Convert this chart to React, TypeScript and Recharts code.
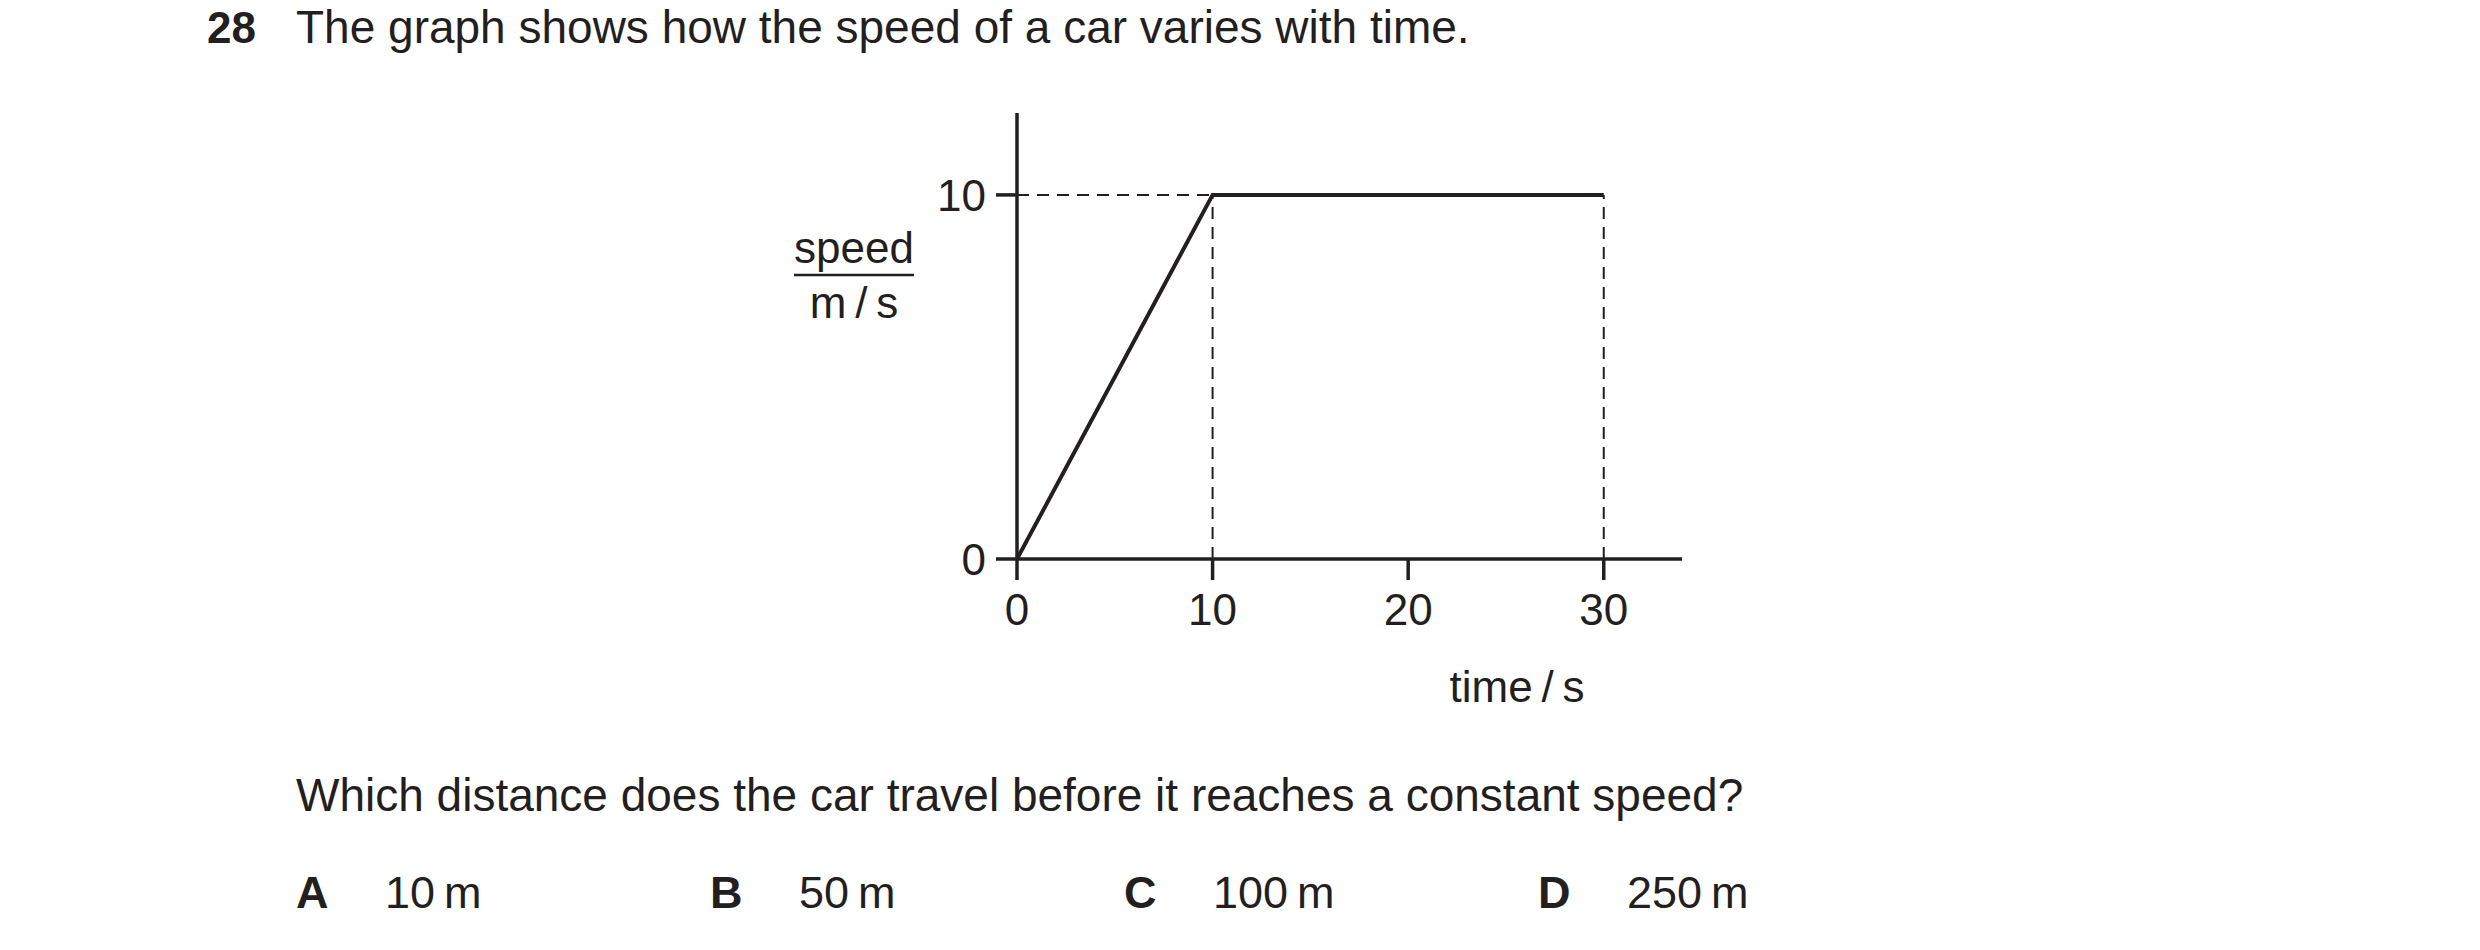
import React from 'react';
import { LineChart, Line, XAxis, YAxis, ReferenceLine, Label } from 'recharts';

const INK = '#231f20';
const FONT = '"Liberation Sans", Arial, Helvetica, sans-serif';

// speed-time graph values
const times = [0, 10, 30];
const speeds = [0, 10, 10];
const xTicks = [0, 10, 20, 30];
const yTicks = [0, 10];

const questionNo = '28';
const stem = 'The graph shows how the speed of a car varies with time.';
const question = 'Which distance does the car travel before it reaches a constant speed?';
const optionLetters = ['A', 'B', 'C', 'D'];
const optionAnswers = ['10\u2009m', '50\u2009m', '100\u2009m', '250\u2009m'];

const data = times.map((t, i) => ({ time: t, speed: speeds[i] }));
const topSpeed = Math.max(...speeds);
const reachTime = times[speeds.indexOf(topSpeed)];
const endTime = times[times.length - 1];

const SpeedLabel = (props: any) => {
  const { x, y, width } = props.viewBox;
  const cx = x + width - 163;
  return (
    <g fontFamily={FONT} fill={INK} fontSize={44}>
      <text x={cx} y={y + 150} textAnchor="middle">speed</text>
      <line x1={cx - 60} x2={cx + 60} y1={y + 162} y2={y + 162} stroke={INK} strokeWidth={2.5} />
      <text x={cx} y={y + 205} textAnchor="middle">{'m\u2009/\u2009s'}</text>
    </g>
  );
};

const TimeLabel = (props: any) => {
  const { x, y } = props.viewBox;
  return (
    <text x={x + 500} y={y + 143} textAnchor="middle" fontFamily={FONT} fill={INK} fontSize={44}>
      {'time\u2009/\u2009s'}
    </text>
  );
};

const axisStyle = { stroke: INK, strokeWidth: 3.5 };
const tickStyle = { fill: INK, fontSize: 44, fontFamily: FONT };
const dashStyle = { stroke: INK, strokeWidth: 2, strokeDasharray: '12 8' };

export default function App() {
  return (
    <div style={{ position: 'absolute', left: 0, top: 0, width: 2480, height: 950, background: '#fff' }}>
      <svg width={2480} height={950} style={{ position: 'absolute', left: 0, top: 0 }} fontFamily={FONT} fill={INK}>
        <text x={207} y={43} fontSize={44} fontWeight="bold">{questionNo}</text>
        <text x={296} y={43} fontSize={46}>{stem}</text>
        <text x={296} y={811} fontSize={46}>{question}</text>
        {optionLetters.map((l, i) => (
          <g key={l}>
            <text x={296 + i * 414} y={908} fontSize={45} fontWeight="bold">{l}</text>
            <text x={385 + i * 414} y={908} fontSize={45}>{optionAnswers[i]}</text>
          </g>
        ))}
      </svg>
      <div style={{ position: 'absolute', left: 0, top: 0 }}>
        <LineChart width={2480} height={950} data={data} margin={{ top: 113, right: 798, left: 917, bottom: 331 }}>
          <XAxis
            dataKey="time"
            type="number"
            domain={[0, 34]}
            ticks={xTicks}
            allowDataOverflow
            height={60}
            tickSize={21}
            tickMargin={14}
            axisLine={axisStyle}
            tickLine={axisStyle}
            tick={tickStyle}
          >
            <Label content={<TimeLabel />} />
          </XAxis>
          <YAxis
            type="number"
            domain={[0, 12.25]}
            ticks={yTicks}
            allowDataOverflow
            width={100}
            tickSize={21}
            tickMargin={10}
            axisLine={axisStyle}
            tickLine={axisStyle}
            tick={tickStyle}
          >
            <Label content={<SpeedLabel />} />
          </YAxis>
          <ReferenceLine
            segment={[{ x: 0, y: topSpeed }, { x: reachTime, y: topSpeed }]}
            {...dashStyle}
            ifOverflow="visible"
          />
          <ReferenceLine
            segment={[{ x: reachTime, y: 0 }, { x: reachTime, y: topSpeed }]}
            {...dashStyle}
            ifOverflow="visible"
          />
          <ReferenceLine
            segment={[{ x: endTime, y: 0 }, { x: endTime, y: topSpeed }]}
            {...dashStyle}
            ifOverflow="visible"
          />
          <Line
            type="linear"
            dataKey="speed"
            stroke={INK}
            strokeWidth={4}
            dot={false}
            activeDot={false}
            isAnimationActive={false}
          />
        </LineChart>
      </div>
    </div>
  );
}
